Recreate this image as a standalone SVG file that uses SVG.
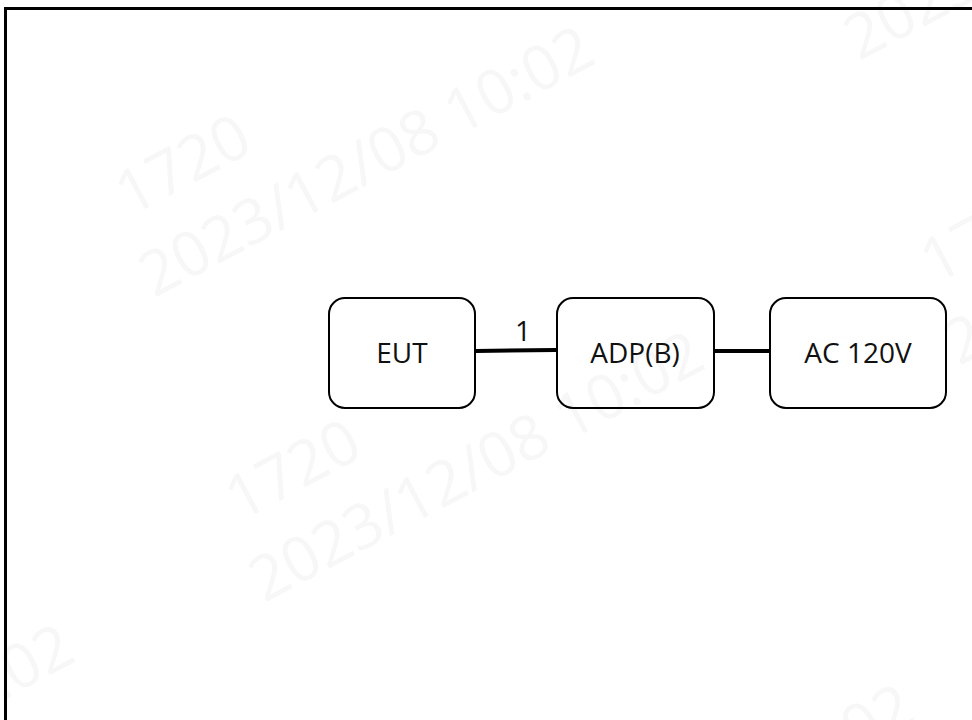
<svg xmlns="http://www.w3.org/2000/svg" xmlns:xlink="http://www.w3.org/1999/xlink" width="972" height="720" viewBox="0 0 972 720">
<style>
.node{fill:none;stroke:#000000;stroke-width:2}
.lbl{font-family:"Open Sans","Liberation Sans",sans-serif;font-size:28px;fill:#111111;text-anchor:middle}
.wm{font-family:"Open Sans","Liberation Sans",sans-serif;font-size:62px;fill:#f7f7f7}
.conn{stroke:#000000;stroke-width:4;fill:none}
</style>
<defs>
<g id="wmark">
<text class="wm" x="0" y="0">1720</text>
<text class="wm" x="-17" y="83">2023/12/08 10:02</text>
</g>
</defs>
<rect x="0" y="0" width="972" height="720" fill="#ffffff"/>
<g id="watermarks">
<use xlink:href="#wmark" transform="translate(130,217) rotate(-28)"/>
<use xlink:href="#wmark" transform="translate(240,522) rotate(-28)"/>
<use xlink:href="#wmark" transform="translate(835,-20) rotate(-28)"/>
<use xlink:href="#wmark" transform="translate(935,285) rotate(-28)"/>
<use xlink:href="#wmark" transform="translate(-390,815) rotate(-28)"/>
<use xlink:href="#wmark" transform="translate(450,875) rotate(-28)"/>
</g>
<rect id="frame" x="5.5" y="8.5" width="1000" height="800" fill="none" stroke="#000000" stroke-width="3"/>
<g id="connectors">
<line class="conn" x1="476" y1="351" x2="556" y2="350"/>
<text class="lbl" x="523" y="341">1</text>
<line class="conn" x1="714" y1="351" x2="770" y2="351"/>
</g>
<g id="eut">
<rect class="node" x="329" y="298" width="146" height="110" rx="16"/>
<text class="lbl" x="402" y="363">EUT</text>
</g>
<g id="adp">
<rect class="node" x="557" y="298" width="157" height="110" rx="16"/>
<text class="lbl" x="635" y="363">ADP(B)</text>
</g>
<g id="ac">
<rect class="node" x="770" y="298" width="176" height="110" rx="16"/>
<text class="lbl" x="858" y="363">AC 120V</text>
</g>
</svg>
